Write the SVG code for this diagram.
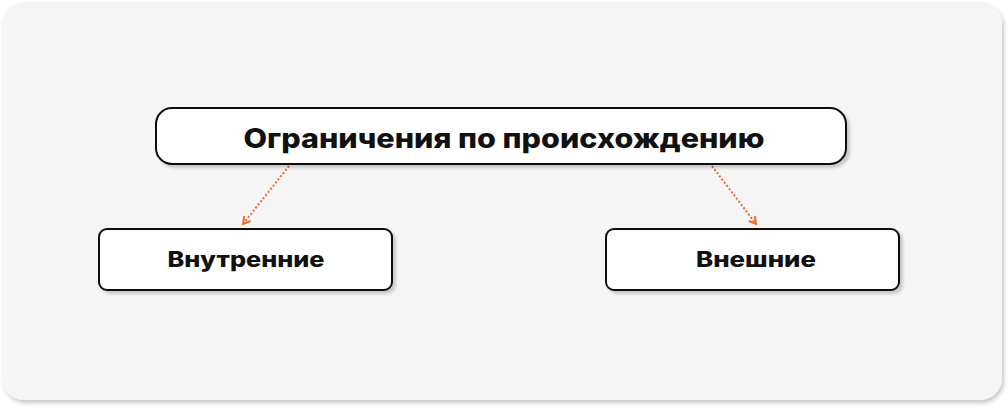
<svg xmlns="http://www.w3.org/2000/svg" width="1008" height="408" viewBox="0 0 1008 408">
  <defs>
    <filter id="sh" x="-5%" y="-5%" width="112%" height="120%">
      <feDropShadow dx="3" dy="3" stdDeviation="1.5" flood-color="#000" flood-opacity="0.18"/>
    </filter>
    <filter id="shp" x="-2%" y="-2%" width="104%" height="106%">
      <feDropShadow dx="2" dy="3" stdDeviation="2" flood-color="#000" flood-opacity="0.22"/>
    </filter>
    <marker id="arr" viewBox="0 0 10 10" refX="8" refY="5" markerWidth="10" markerHeight="10" markerUnits="userSpaceOnUse" orient="auto">
      <path d="M1,1 L8,5 L1,9" fill="none" stroke="#ec6a2f" stroke-width="2"/>
    </marker>
    <style>
      .node { fill: #ffffff; stroke: #111111; stroke-width: 2; }
      .lbl { font-family: "Inter", "Open Sans", "Liberation Sans", sans-serif; font-weight: 800; fill: #111111; text-anchor: middle; }
      .conn { fill: none; stroke: #ec6a2f; stroke-width: 2; stroke-dasharray: 2 2; }
    </style>
  </defs>
  <rect width="1008" height="408" fill="#ffffff"/>
  <rect x="2" y="2" width="1000" height="398" rx="22" fill="#f5f5f5" filter="url(#shp)"/>
  <g id="connectors">
    <line class="conn" x1="289" y1="166" x2="243" y2="224" marker-end="url(#arr)"/>
    <line class="conn" x1="712" y1="166" x2="756" y2="224" marker-end="url(#arr)"/>
  </g>
  <g id="node-top">
    <rect class="node" x="156" y="108" width="690" height="56" rx="16" filter="url(#sh)"/>
    <text class="lbl" x="504" y="148" font-size="27" textLength="521" lengthAdjust="spacingAndGlyphs">Ограничения по происхождению</text>
  </g>
  <g id="node-internal">
    <rect class="node" x="99" y="229" width="293" height="61" rx="8" filter="url(#sh)"/>
    <text class="lbl" x="246" y="267" font-size="21" textLength="157" lengthAdjust="spacingAndGlyphs">Внутренние</text>
  </g>
  <g id="node-external">
    <rect class="node" x="606" y="229" width="293" height="61" rx="8" filter="url(#sh)"/>
    <text class="lbl" x="756" y="267" font-size="21" textLength="120" lengthAdjust="spacingAndGlyphs">Внешние</text>
  </g>
</svg>
